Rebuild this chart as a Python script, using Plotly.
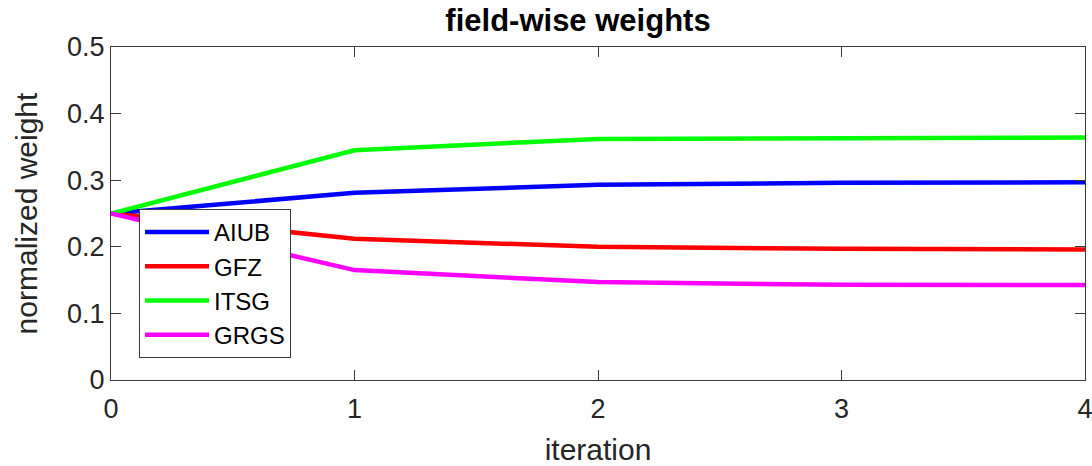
import plotly.graph_objects as go

# iteration index and per-centre normalized weights
iterations = [0, 1, 2, 3, 4]
aiub = [0.25, 0.281, 0.293, 0.296, 0.297]
gfz = [0.25, 0.212, 0.200, 0.197, 0.196]
itsg = [0.25, 0.345, 0.362, 0.363, 0.364]
grgs = [0.25, 0.165, 0.147, 0.143, 0.1425]

series = [
    ("AIUB", aiub, "#0000ff"),
    ("GFZ", gfz, "#ff0000"),
    ("ITSG", itsg, "#00ff00"),
    ("GRGS", grgs, "#ff00ff"),
]

FONT = "Liberation Sans, Arial, Helvetica, sans-serif"

fig = go.Figure()
for name, vals, color in series:
    fig.add_trace(go.Scatter(
        x=iterations, y=vals, name=name, mode="lines",
        line=dict(color=color, width=4.5),
    ))

axis_common = dict(
    showgrid=False, zeroline=False, automargin=False,
    showline=True, linecolor="#3a3a3a", linewidth=1,
    mirror="ticks", ticks="inside", ticklen=10, tickwidth=1, tickcolor="#3a3a3a",
    tickfont=dict(family=FONT, size=27, color="#262626"),
)

fig.update_layout(
    width=1092, height=466,
    margin=dict(l=111, r=7, t=47, b=86),
    paper_bgcolor="white", plot_bgcolor="white",
    title=dict(text="<b>field-wise weights</b>", x=578 / 1092, xanchor="center",
               y=1 - 20 / 466, yanchor="middle",
               font=dict(family=FONT, size=31, color="#000000")),
    xaxis=dict(range=[0, 4], tickvals=[0, 1, 2, 3, 4], ticklabeloverflow="allow",
               ticklabelstandoff=5,
               title=dict(text="iteration", standoff=16,
                          font=dict(family=FONT, size=30, color="#262626")),
               **axis_common),
    yaxis=dict(range=[0, 0.5], tickvals=[0, 0.1, 0.2, 0.3, 0.4, 0.5],
               ticktext=["0", "0.1", "0.2", "0.3", "0.4", "0.5"],
               title=dict(text="normalized weight", standoff=20,
                          font=dict(family=FONT, size=30, color="#262626")),
               **axis_common),
    legend=dict(x=28 / 974, y=0.5135, xanchor="left", yanchor="top",
                bgcolor="white", bordercolor="#3a3a3a", borderwidth=1,
                font=dict(family=FONT, size=24, color="#000000"),
                itemwidth=64, tracegroupgap=0),
    showlegend=True,
)

fig.write_html("out.html")
